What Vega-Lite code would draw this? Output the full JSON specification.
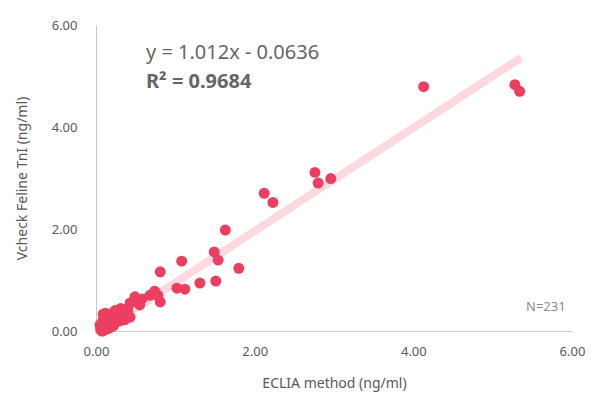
{
  "$schema": "https://vega.github.io/schema/vega-lite/v6.json",
  "width": 476,
  "height": 306,
  "autosize": "none",
  "padding": {"left": 96, "top": 25, "right": 23, "bottom": 65},
  "background": "white",
  "config": {"view": {"stroke": null}, "font": "Noto Sans"},
  "datasets": {
    "pts": [
      {"x": 0.06, "y": 0.02}, {"x": 0.08, "y": 0.05}, {"x": 0.07, "y": 0.10}, {"x": 0.09, "y": 0.0},
      {"x": 0.10, "y": 0.03}, {"x": 0.12, "y": 0.08}, {"x": 0.10, "y": 0.14}, {"x": 0.08, "y": 0.18},
      {"x": 0.13, "y": 0.15}, {"x": 0.15, "y": 0.10}, {"x": 0.14, "y": 0.04}, {"x": 0.17, "y": 0.06},
      {"x": 0.18, "y": 0.14}, {"x": 0.16, "y": 0.20}, {"x": 0.12, "y": 0.22}, {"x": 0.20, "y": 0.18},
      {"x": 0.22, "y": 0.10}, {"x": 0.24, "y": 0.16}, {"x": 0.21, "y": 0.25}, {"x": 0.18, "y": 0.28},
      {"x": 0.13, "y": 0.30}, {"x": 0.10, "y": 0.27}, {"x": 0.16, "y": 0.33}, {"x": 0.20, "y": 0.34},
      {"x": 0.25, "y": 0.32}, {"x": 0.28, "y": 0.36}, {"x": 0.24, "y": 0.40}, {"x": 0.30, "y": 0.30},
      {"x": 0.27, "y": 0.24}, {"x": 0.32, "y": 0.38}, {"x": 0.34, "y": 0.27}, {"x": 0.30, "y": 0.20},
      {"x": 0.12, "y": 0.35}, {"x": 0.09, "y": 0.33}, {"x": 0.06, "y": 0.06}, {"x": 0.07, "y": 0.0},
      {"x": 0.11, "y": 0.11}, {"x": 0.19, "y": 0.22}, {"x": 0.23, "y": 0.28}, {"x": 0.15, "y": 0.26},
      {"x": 0.26, "y": 0.18}, {"x": 0.35, "y": 0.42}, {"x": 0.31, "y": 0.44},
      {"x": 0.37, "y": 0.33}, {"x": 0.36, "y": 0.22}, {"x": 0.05, "y": 0.12}, {"x": 0.38, "y": 0.38},
      {"x": 0.40, "y": 0.41}, {"x": 0.43, "y": 0.27}, {"x": 0.43, "y": 0.55}, {"x": 0.49, "y": 0.67},
      {"x": 0.55, "y": 0.51}, {"x": 0.58, "y": 0.63}, {"x": 0.68, "y": 0.70}, {"x": 0.74, "y": 0.78},
      {"x": 0.78, "y": 0.70}, {"x": 0.81, "y": 0.57}, {"x": 0.81, "y": 1.16}, {"x": 1.02, "y": 0.84},
      {"x": 1.12, "y": 0.82}, {"x": 1.08, "y": 1.37}, {"x": 1.31, "y": 0.94}, {"x": 1.51, "y": 0.98},
      {"x": 1.49, "y": 1.55}, {"x": 1.54, "y": 1.39}, {"x": 1.80, "y": 1.23}, {"x": 1.63, "y": 1.98},
      {"x": 2.12, "y": 2.70}, {"x": 2.23, "y": 2.52}, {"x": 2.76, "y": 3.11}, {"x": 2.80, "y": 2.90},
      {"x": 2.96, "y": 2.99}, {"x": 4.13, "y": 4.79}, {"x": 5.28, "y": 4.83}, {"x": 5.34, "y": 4.70}
    ],
    "trend": [{"x": 0.07, "y": 0.007}, {"x": 5.36, "y": 5.361}],
    "eq": [{"x": 0.63, "y": 5.45, "t": "y = 1.012x - 0.0636"}],
    "r2": [{"x": 0.63, "y": 4.89, "t": "R² = 0.9684"}],
    "n": [{"x": 5.92, "y": 0.47, "t": "N=231"}]
  },
  "layer": [
    {
      "data": {"name": "trend"},
      "mark": {"type": "line", "color": "#fcd9de", "strokeWidth": 8, "strokeCap": "butt"},
      "encoding": {
        "x": {"field": "x", "type": "quantitative", "scale": {"domain": [0, 6]},
          "axis": {"title": "ECLIA method (ng/ml)", "values": [0, 2, 4, 6], "format": ".2f", "grid": false, "ticks": false, "labelFlush": false,
            "domainColor": "#c8c8c8", "labelColor": "#595959", "labelFontSize": 13, "labelPadding": 14,
            "titleColor": "#595959", "titleFontSize": 14, "titleFontWeight": "normal", "titlePadding": 18}},
        "y": {"field": "y", "type": "quantitative", "scale": {"domain": [0, 6]},
          "axis": {"title": "Vcheck Feline TnI (ng/ml)", "values": [0, 2, 4, 6], "format": ".2f", "grid": false, "ticks": false, "labelFlush": false,
            "domainColor": "#c8c8c8", "labelColor": "#595959", "labelFontSize": 13, "labelPadding": 19,
            "titleColor": "#595959", "titleFontSize": 14, "titleFontWeight": "normal", "titlePadding": 22}}
      }
    },
    {
      "data": {"name": "pts"},
      "mark": {"type": "circle", "color": "#ec3f60", "opacity": 1, "size": 120},
      "encoding": {
        "x": {"field": "x", "type": "quantitative"},
        "y": {"field": "y", "type": "quantitative"}
      }
    },
    {
      "data": {"name": "eq"},
      "mark": {"type": "text", "align": "left", "baseline": "middle", "fontSize": 20, "color": "#666666"},
      "encoding": {
        "x": {"field": "x", "type": "quantitative"},
        "y": {"field": "y", "type": "quantitative"},
        "text": {"field": "t"}
      }
    },
    {
      "data": {"name": "r2"},
      "mark": {"type": "text", "align": "left", "baseline": "middle", "fontSize": 20, "fontWeight": "bold", "color": "#666666"},
      "encoding": {
        "x": {"field": "x", "type": "quantitative"},
        "y": {"field": "y", "type": "quantitative"},
        "text": {"field": "t"}
      }
    },
    {
      "data": {"name": "n"},
      "mark": {"type": "text", "align": "right", "baseline": "middle", "fontSize": 13, "color": "#8c8c8c"},
      "encoding": {
        "x": {"field": "x", "type": "quantitative"},
        "y": {"field": "y", "type": "quantitative"},
        "text": {"field": "t"}
      }
    }
  ]
}
